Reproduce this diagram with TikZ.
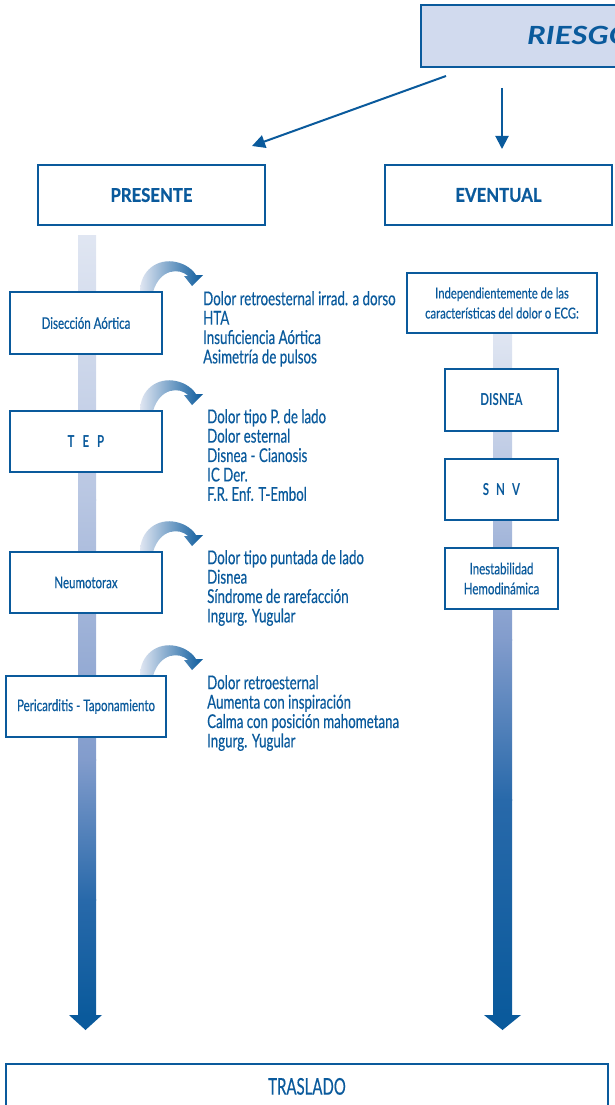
\documentclass[tikz,border=0pt]{standalone}
\usepackage{fontspec}
\setmainfont{Lato}
\newfontfamily\cond[FakeStretch=0.70,FakeBold=0.4]{Lato}
\newfontfamily\condbox[FakeStretch=0.72,FakeBold=0.4]{Lato}
\newfontfamily\condind[FakeStretch=0.75,FakeBold=0.4]{Lato}
\newfontfamily\condtr[FakeStretch=0.65,FakeBold=0.4]{Lato}
\newfontfamily\condsb[FakeStretch=0.70]{Lato Bold}
\newfontfamily\condb[FakeStretch=0.88,FakeBold=0.8]{Lato Bold}
\newfontfamily\wide[FakeStretch=1.25]{Lato Bold Italic}
\usetikzlibrary{arrows.meta}
\definecolor{bl}{RGB}{10,90,156}
\definecolor{lav}{RGB}{209,218,238}
\definecolor{g0}{RGB}{224,230,242}
\definecolor{g1}{RGB}{184,198,226}
\definecolor{g2}{RGB}{130,156,204}
\definecolor{g3}{RGB}{40,105,170}
\definecolor{g4}{RGB}{10,90,156}
\tikzset{
  box/.style={draw=bl, line width=1.8pt, fill=white, text=bl, inner sep=0pt, align=center},
  boxtxt/.style={font=\condbox\fontsize{16}{18}\selectfont},
  sbtxt/.style={font=\condsb\fontsize{16.5}{18}\selectfont},
  listtxt/.style={text=bl, anchor=north west, inner sep=0pt, align=left, font=\cond\fontsize{19}{19.4}\selectfont},
  thin/.style={draw=bl, line width=2pt, -{Triangle[width=13pt,length=13pt]}},
}
\newcommand{\curvarrow}[1]{%
  \begin{scope}[yshift=#1]
    \shade[left color=g0, middle color=g1, right color=bl]
      (140,292) .. controls (140,270) and (158,258) .. (176,262)
      .. controls (186,264) and (193,270) .. (196,275) -- (203,275) -- (192,286) -- (184,276) -- (188,276)
      .. controls (180,268) and (160,268) .. (153,292) -- cycle;
  \end{scope}}
\begin{document}
\begin{tikzpicture}[x=1pt,y=-1pt]
\useasboundingbox (0,0) rectangle (614,1105);
% RIESGO
\node[draw=bl, line width=1.8pt, fill=lav, minimum width=230pt, minimum height=62pt, anchor=north west, inner sep=0pt] (riesgo) at (420,4) {};
\node[text=bl, anchor=base west, inner sep=0pt, font=\wide\fontsize{25}{28}\selectfont] (riesgot) at (527,45) {RIESGO};
% top boxes
\node[box, minimum width=227pt, minimum height=60pt, font=\condb\fontsize{19}{20}\selectfont] (pres) at (151.5,195) {PRESENTE};
\node[box, minimum width=227pt, minimum height=60pt, font=\condb\fontsize{19}{20}\selectfont] (event) at (498.5,195) {EVENTUAL};
\coordinate (a1s) at (446,76);
\coordinate (a1e) at (252,146);
\coordinate (a2s) at (502,88);
\coordinate (a2e) at (502,149);
\draw[thin] (a1s) -- (a1e);
\draw[thin] (a2s) -- (a2e);
% gradient bars
\shade[top color=g0, bottom color=g1] (78,235) rectangle (96,500);
\shade[top color=g1, bottom color=g2] (78,499.5) rectangle (96,760);
\shade[top color=g2, bottom color=g3] (78,759.5) rectangle (96,900);
\shade[top color=g3, bottom color=g4] (78,899.5) rectangle (96,1016);
\fill[bl] (69,1015) -- (102,1015) -- (85.5,1030) -- cycle;
\shade[top color=g0, bottom color=g1] (493,333) rectangle (512,480);
\shade[top color=g1, bottom color=g2] (493,479.5) rectangle (512,640);
\shade[top color=g2, bottom color=g3] (493,639.5) rectangle (512,800);
\shade[top color=g3, bottom color=g4] (493,799.5) rectangle (512,1016);
\fill[bl] (484,1015) -- (521,1015) -- (502.5,1030) -- cycle;
% curved arrows
\curvarrow{0pt}
\curvarrow{-119pt}
\curvarrow{-260pt}
\curvarrow{-384pt}
% left boxes
\node[box, boxtxt, minimum width=152pt, minimum height=62pt] (dis) at (86,323) {Disección Aórtica};
\node[box, sbtxt, minimum width=152pt, minimum height=61pt] (tep) at (86,441.5) {T\hspace{8pt}E\hspace{8pt}P};
\node[box, boxtxt, minimum width=152pt, minimum height=61pt] (neu) at (86,582.5) {Neumotorax};
\node[box, boxtxt, minimum width=160pt, minimum height=61pt] (peri) at (86,706.5) {Pericarditis - Taponamiento};
% lists
\node[listtxt] (l1) at (203,291) {Dolor retroesternal irrad. a dorso\\HTA\\Insuficiencia Aórtica\\Asimetría de pulsos};
\node[listtxt] (l2) at (207,409) {Dolor tipo P. de lado\\Dolor esternal\\Disnea - Cianosis\\IC Der.\\F.R. Enf. T-Embol};
\node[listtxt] (l3) at (207,550) {Dolor tipo puntada de lado\\Disnea\\Síndrome de rarefacción\\Ingurg. Yugular};
\node[listtxt] (l4) at (207,675) {Dolor retroesternal\\Aumenta con inspiración\\Calma con posición mahometana\\Ingurg. Yugular};
% right boxes
\node[box, minimum width=190pt, minimum height=60pt, font=\condind\fontsize{15}{20}\selectfont] (indep) at (502,303) {Independientemente de las\\características del dolor o ECG:};
\node[box, sbtxt, minimum width=113pt, minimum height=62pt] (disn) at (501.5,400) {DISNEA};
\node[box, sbtxt, minimum width=113pt, minimum height=61pt] (snv) at (501.5,489.5) {S\hspace{7pt}N\hspace{7pt}V};
\node[box, minimum width=113pt, minimum height=61pt, font=\condbox\fontsize{16}{20}\selectfont] (ines) at (501.5,578.5) {Inestabilidad\\Hemodinámica};
% traslado
\node[box, minimum width=602pt, minimum height=45pt, anchor=north, font=\condtr\fontsize{23}{24}\selectfont] (tras) at (307,1063) {TRASLADO};
\end{tikzpicture}
\end{document}
